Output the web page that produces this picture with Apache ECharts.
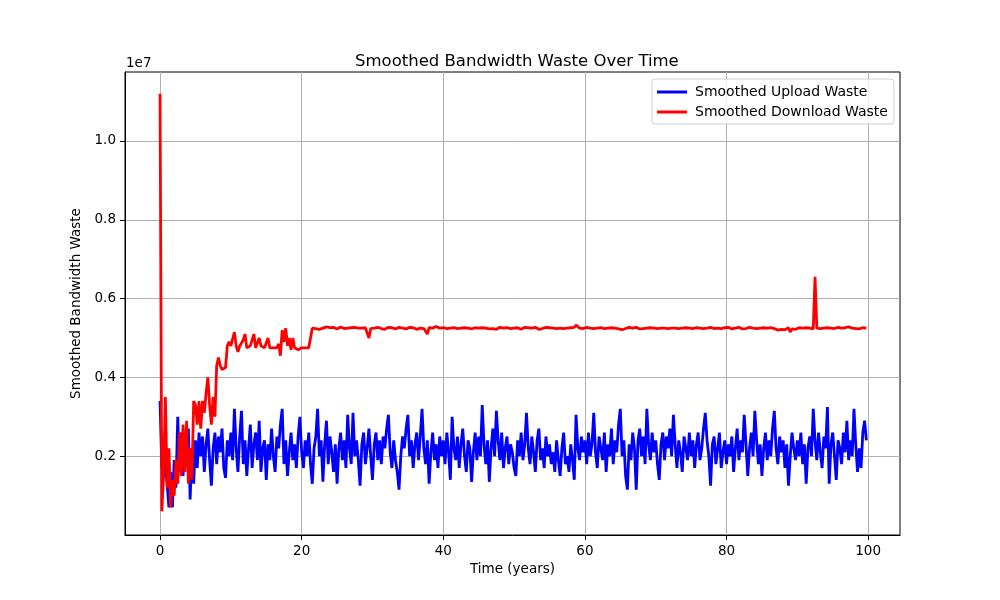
<!DOCTYPE html>
<html>
<head>
<meta charset="utf-8">
<title>Smoothed Bandwidth Waste Over Time</title>
<script src="https://cdn.jsdelivr.net/npm/echarts@6/dist/echarts.min.js"></script>
<style>
	html, body { margin: 0; padding: 0; background: #fff; }
	#chart { width: 1000px; height: 600px; }
</style>
</head>
<body>
<div id="chart"></div>
<script>
"use strict";

// sample spacing of the time axis (years)
var step = 0.25;

// smoothed upload waste, millions, one value per step
var upload = [
	3.4, 1.7, 2.2, 1.8, 1.3, 0.7, 1.6, 0.7, 1.9, 1.2, 3.0, 1.6, 2.6, 1.5, 2.4, 1.9, 2.7, 0.9, 2.2, 1.3,
	2.4, 1.7, 2.6, 2.0, 2.5, 1.6, 2.3, 2.7, 1.9, 1.25, 2.2, 2.6, 1.8, 2.5, 2.1, 2.7, 1.7, 1.45, 2.4, 2.0,
	2.6, 1.9, 3.2, 2.2, 1.6, 2.5, 3.15, 1.8, 2.4, 1.5, 2.2, 2.8, 1.7, 2.3, 2.6, 1.9, 2.9, 1.6, 2.2, 2.4,
	1.4, 2.3, 1.9, 2.7, 2.0, 1.6, 2.5, 2.2, 2.8, 3.2, 1.8, 2.4, 1.5, 2.1, 2.6, 1.9, 2.3, 1.7, 2.5, 3.0,
	2.1, 1.7, 2.4, 2.0, 2.6, 1.8, 1.3, 2.2, 2.5, 3.2, 2.0, 2.4, 1.35, 2.3, 2.9, 1.8, 2.5, 2.1, 1.6, 2.3,
	1.3, 2.2, 2.6, 1.9, 2.4, 1.7, 3.05, 2.2, 1.8, 3.1, 2.0, 2.4, 1.9, 1.25, 2.3, 2.6, 1.8, 2.2, 2.7, 2.0,
	1.4, 2.3, 2.6, 1.9, 2.4, 1.8, 2.5, 2.2, 2.7, 3.05, 2.1, 1.7, 2.4, 1.9, 1.6, 1.15, 2.0, 2.5, 2.2, 2.7,
	3.05, 2.0, 2.4, 1.7, 2.3, 2.6, 1.9, 2.5, 3.2, 2.2, 1.8, 2.4, 1.3, 2.1, 2.6, 1.9, 2.3, 1.7, 2.5, 2.0,
	2.4, 1.8, 2.6, 2.1, 1.4, 3.0, 2.2, 1.9, 2.5, 1.7, 2.3, 2.7, 2.0, 1.6, 2.4, 2.2, 1.35, 2.1, 2.6, 1.9,
	2.5, 2.0, 3.3, 2.3, 1.8, 2.4, 1.35, 2.2, 2.7, 2.0, 3.15, 2.4, 1.9, 2.6, 1.7, 2.2, 2.5, 1.8, 2.3, 2.1,
	1.7, 1.5, 2.4, 2.0, 2.6, 1.9, 2.3, 3.1, 2.2, 1.8, 2.5, 2.1, 1.6, 2.4, 2.7, 1.9, 2.2, 1.7, 2.5, 2.0,
	2.3, 1.8, 2.1, 1.6, 2.4, 1.9, 1.5, 2.2, 2.6, 1.8, 2.0, 1.6, 2.3, 1.9, 1.4, 3.05, 2.2, 1.9, 2.5, 2.1,
	2.4, 1.8, 2.6, 2.0, 2.3, 3.1, 2.1, 1.7, 2.5, 2.2, 1.9, 2.6, 1.6, 2.3, 2.0, 2.7, 1.8, 2.4, 2.1, 2.8,
	3.2, 2.0, 2.4, 1.5, 1.15, 2.3, 1.9, 2.6, 2.2, 1.15, 2.4, 2.7, 2.0, 2.5, 1.8, 3.2, 2.3, 1.9, 2.6, 2.1,
	2.4, 1.8, 1.4, 2.3, 2.6, 1.9, 2.5, 2.2, 2.7, 2.0, 3.05, 2.3, 1.7, 2.4, 2.1, 1.6, 2.5, 2.2, 1.9, 2.6,
	2.0, 2.4, 1.7, 2.3, 2.6, 1.9, 2.2, 2.7, 3.1, 2.4, 2.0, 1.25, 2.3, 2.5, 1.8, 2.2, 2.6, 1.7, 2.1, 2.4,
	1.8, 2.3, 2.0, 2.5, 1.6, 2.2, 2.7, 1.9, 2.4, 2.1, 3.05, 2.3, 1.5, 2.2, 2.6, 2.0, 3.15, 2.4, 1.8, 2.3,
	1.5, 2.2, 2.6, 1.9, 2.4, 2.0, 2.7, 3.15, 2.2, 1.8, 2.5, 2.1, 2.4, 1.7, 2.3, 1.25, 2.0, 2.6, 2.2, 1.9,
	2.4, 2.0, 2.6, 1.8, 2.3, 1.3, 2.2, 2.5, 2.0, 3.2, 2.4, 1.9, 2.6, 2.1, 1.7, 2.5, 2.2, 3.25, 1.3, 2.3,
	2.6, 2.0, 1.4, 2.4, 2.2, 1.8, 2.6, 2.1, 2.9, 1.9, 2.4, 2.0, 3.2, 2.3, 1.6, 2.2, 1.7, 2.6, 2.9, 2.4
];

// smoothed download waste, millions, one value per step
var download = [
	11.2, 0.6, 1.5, 3.5, 1.2, 2.2, 0.7, 1.4, 1.0, 1.9, 1.3, 2.6, 1.5, 2.8, 1.6, 2.9, 1.3, 2.2, 1.4, 3.4,
	3.3, 2.8, 3.4, 2.7, 3.4, 3.1, 3.6, 4.0, 3.3, 2.8, 3.5, 3.0, 4.3, 4.5, 4.3, 4.2, 4.2, 4.25, 4.8, 4.9,
	4.8, 4.75, 5.15, 4.8, 4.65, 4.8, 4.75, 4.95, 5.1, 4.75, 4.7, 4.8, 4.75, 5.1, 4.75, 4.7, 5.0, 4.8, 4.75, 4.75,
	4.8, 5.0, 4.75, 4.7, 4.75, 4.8, 4.75, 4.85, 4.55, 5.2, 4.9, 5.25, 4.8, 5.0, 4.7, 5.0, 4.75, 4.8, 4.7, 4.75,
	4.75, 4.7, 4.75, 4.7, 4.75, 4.75, 5.25, 5.27, 5.24, 5.26, 5.22, 5.27, 5.25, 5.23, 5.28, 5.25, 5.26, 5.24, 5.27, 5.25,
	5.23, 5.26, 5.28, 5.25, 5.24, 5.27, 5.25, 5.22, 5.26, 5.25, 5.27, 5.24, 5.25, 5.28, 5.25, 5.23, 5.26, 5.25, 5.0, 5.24,
	5.26, 5.25, 5.23, 5.27, 5.25, 5.24, 5.26, 5.22, 5.25, 5.27, 5.24, 5.26, 5.25, 5.23, 5.25, 5.27, 5.24, 5.25, 5.26, 5.23,
	5.25, 5.27, 5.24, 5.26, 5.25, 5.22, 5.26, 5.25, 5.27, 5.24, 5.25, 5.1, 5.26, 5.28, 5.25, 5.27, 5.29, 5.26, 5.25, 5.28,
	5.26, 5.28, 5.24, 5.27, 5.25, 5.23, 5.26, 5.25, 5.24, 5.27, 5.25, 5.22, 5.26, 5.24, 5.25, 5.27, 5.23, 5.25, 5.26, 5.24,
	5.25, 5.22, 5.26, 5.24, 5.25, 5.27, 5.23, 5.25, 5.24, 5.26, 5.22, 5.25, 5.27, 5.24, 5.25, 5.23, 5.26, 5.25, 5.24, 5.27,
	5.25, 5.23, 5.26, 5.24, 5.22, 5.25, 5.27, 5.24, 5.26, 5.23, 5.25, 5.24, 5.27, 5.25, 5.22, 5.26, 5.24, 5.25, 5.27, 5.24,
	5.26, 5.23, 5.25, 5.28, 5.24, 5.26, 5.25, 5.27, 5.24, 5.26, 5.25, 5.28, 5.26, 5.3, 5.27, 5.33, 5.28, 5.25, 5.27, 5.24,
	5.25, 5.27, 5.23, 5.25, 5.26, 5.24, 5.27, 5.25, 5.23, 5.26, 5.25, 5.24, 5.27, 5.25, 5.22, 5.26, 5.24, 5.25, 5.27, 5.23,
	5.25, 5.21, 5.26, 5.24, 5.25, 5.27, 5.22, 5.25, 5.24, 5.27, 5.25, 5.23, 5.26, 5.24, 5.28, 5.25, 5.23, 5.26, 5.24, 5.25,
	5.27, 5.24, 5.26, 5.25, 5.23, 5.25, 5.27, 5.24, 5.26, 5.25, 5.22, 5.25, 5.27, 5.24, 5.26, 5.25, 5.23, 5.26, 5.24, 5.25,
	5.27, 5.24, 5.25, 5.26, 5.23, 5.25, 5.27, 5.24, 5.26, 5.25, 5.23, 5.27, 5.25, 5.24, 5.26, 5.25, 5.28, 5.24, 5.25, 5.26,
	5.24, 5.27, 5.25, 5.23, 5.26, 5.25, 5.24, 5.27, 5.25, 5.23, 5.26, 5.24, 5.25, 5.27, 5.23, 5.25, 5.26, 5.24, 5.22, 5.25,
	5.24, 5.26, 5.21, 5.25, 5.23, 5.26, 5.22, 5.24, 5.25, 5.2, 5.24, 5.22, 5.25, 5.21, 5.24, 5.26, 5.15, 5.23, 5.25, 5.22,
	5.24, 5.26, 5.23, 5.25, 5.22, 5.26, 5.24, 5.25, 5.27, 5.23, 6.55, 5.25, 5.27, 5.24, 5.26, 5.25, 5.23, 5.26, 5.24, 5.25,
	5.26, 5.24, 5.25, 5.27, 5.23, 5.25, 5.24, 5.26, 5.25, 5.28, 5.24, 5.25, 5.26, 5.24, 5.25, 5.23, 5.25, 5.26, 5.24, 5.25
];

var xTicks = [0, 20, 40, 60, 80, 100];
var yTicks = [2e6, 4e6, 6e6, 8e6, 10e6];

var font = "DejaVu Sans";

// build [time, value] pairs
function toPairs(list) {
	var out = [];
	for (var i = 0; i < list.length; i++) {
		out.push([i * step, list[i] * 1e6]);
	}
	return out;
}

var chart = echarts.init(document.getElementById("chart"), null, { renderer: "canvas" });

var option = {
	animation: false,
	backgroundColor: "#fff",
	title: {
		text: "Smoothed Bandwidth Waste Over Time",
		left: 350,
		top: 48,
		textStyle: { fontFamily: font, fontSize: 16.5, fontWeight: "normal", color: "#000" }
	},
	legend: {
		orient: "vertical",
		left: 652,
		top: 79,
		padding: [6, 6, 5, 5],
		itemGap: 6,
		itemWidth: 30,
		itemHeight: 3,
		icon: "rect",
		backgroundColor: "rgba(255,255,255,0.8)",
		borderColor: "#d0d0d0",
		borderWidth: 1,
		borderRadius: 3,
		textStyle: { fontFamily: font, fontSize: 14, color: "#000", padding: [0, 0, 0, 3] },
		data: ["Smoothed Upload Waste", "Smoothed Download Waste"]
	},
	grid: {
		left: 125,
		right: 100,
		top: 72,
		bottom: 65,
		show: true,
		borderColor: "#000",
		borderWidth: 1,
		containLabel: false
	},
	xAxis: {
		type: "value",
		min: -4.95,
		max: 104.5,
		name: "Time (years)",
		nameLocation: "middle",
		nameGap: 27,
		nameTextStyle: { fontFamily: font, fontSize: 13.5, color: "#000" },
		axisLine: { show: true, onZero: false, lineStyle: { color: "#000", width: 1 } },
		axisTick: { show: true, length: 5, customValues: xTicks, lineStyle: { color: "#000" } },
		axisLabel: {
			customValues: xTicks,
			margin: 9,
			fontFamily: font,
			fontSize: 13.5,
			color: "#000"
		},
		splitLine: { show: true, lineStyle: { color: "#b0b0b0", width: 1 } }
	},
	yAxis: {
		type: "value",
		min: 0,
		max: 11.75e6,
		name: "Smoothed Bandwidth Waste",
		nameLocation: "middle",
		nameGap: 39,
		nameTextStyle: { fontFamily: font, fontSize: 13.5, color: "#000" },
		axisLine: { show: true, onZero: false, lineStyle: { color: "#000", width: 1 } },
		axisTick: { show: true, length: 5, customValues: yTicks, lineStyle: { color: "#000" } },
		axisLabel: {
			customValues: yTicks,
			margin: 9,
			fontFamily: font,
			fontSize: 13.5,
			color: "#000",
			formatter: function (v) {
				return (v / 1e7).toFixed(1);
			}
		},
		splitLine: { show: true, lineStyle: { color: "#b0b0b0", width: 1 } }
	},
	graphic: [
		{
			// offset label of the y axis
			type: "text",
			left: 126,
			top: 56,
			style: { text: "1e7", fontFamily: font, fontSize: 13.5, fill: "#000" }
		}
	],
	series: [
		{
			name: "Smoothed Upload Waste",
			type: "line",
			symbol: "none",
			color: "#0000ff",
			lineStyle: { width: 2.8, color: "#0000ff" },
			data: toPairs(upload)
		},
		{
			name: "Smoothed Download Waste",
			type: "line",
			symbol: "none",
			color: "#ff0000",
			lineStyle: { width: 2.8, color: "#ff0000" },
			data: toPairs(download)
		}
	]
};

chart.setOption(option);
</script>
</body>
</html>
